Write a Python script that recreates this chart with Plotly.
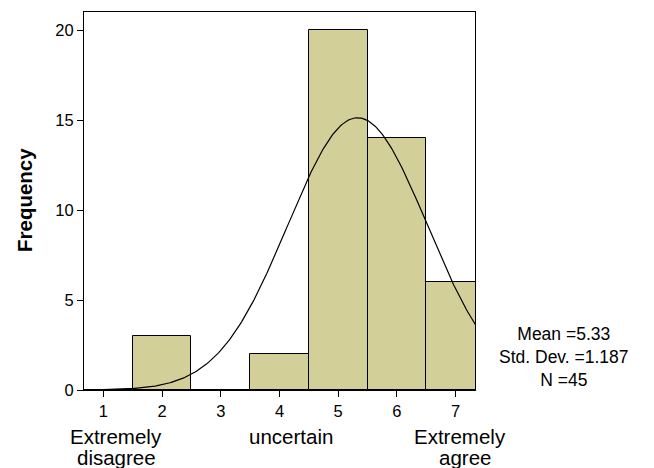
import numpy as np
import plotly.graph_objects as go

# Data
values = [1, 2, 3, 4, 5, 6, 7]
counts = [0, 3, 0, 2, 20, 14, 6]
y_ticks = [0, 5, 10, 15, 20]
category_labels = {1: ["Extremely", "disagree"], 4: ["uncertain"], 7: ["Extremely", "agree"]}
stat_mean = 5.33
stat_sd = 1.187
stat_n = 45

W, H = 654, 468
L, R, T, B = 84, 179, 12, 78
PW, PH = W - L - R, H - T - B

BAR_COLOR = "#D3CF99"
FONT = "Liberation Sans, Arial, sans-serif"

fig = go.Figure()
fig.add_trace(go.Bar(
    x=values, y=counts, width=1.0,
    marker=dict(color=BAR_COLOR, line=dict(color="black", width=1)),
    hoverinfo="skip",
))

# Fitted normal curve from the displayed statistics
xc = np.linspace(1.0, 7.4, 300)
yc = stat_n * 1.0 / (stat_sd * np.sqrt(2 * np.pi)) * np.exp(-0.5 * ((xc - stat_mean) / stat_sd) ** 2)
fig.add_trace(go.Scatter(x=xc, y=yc, mode="lines", line=dict(color="black", width=1.2),
                         hoverinfo="skip"))

x_range = [0.67, 7.33]
y_range = [0, 21.0]

def px_to_xpaper(px):
    return (px - L) / PW

def py_to_ypaper(py):
    return (H - B - py) / PH

annotations = []
cat_pos = {
    1: [(116, 436), (116, 457)],
    4: [(291, 436)],
    7: [(460, 436), (465, 457)],
}
for k, lines in category_labels.items():
    for (txt, (px, py)) in zip(lines, cat_pos[k]):
        annotations.append(dict(
            text=txt, x=px_to_xpaper(px), y=py_to_ypaper(py), xref="paper", yref="paper",
            xanchor="center", yanchor="middle", showarrow=False,
            font=dict(family=FONT, size=20.5, color="black")))

stats_text = "<br>".join([f"Mean ={stat_mean:.2f}", f"Std. Dev. ={stat_sd:.3f}", f"N ={stat_n}"])
annotations.append(dict(
    text=stats_text, x=px_to_xpaper(564), y=py_to_ypaper(357), xref="paper", yref="paper",
    xanchor="center", yanchor="middle", align="center", showarrow=False,
    font=dict(family=FONT, size=17.5, color="black")))

annotations.append(dict(
    text="<b>Frequency</b>", x=px_to_xpaper(24), y=py_to_ypaper(200), xref="paper", yref="paper",
    xanchor="center", yanchor="middle", showarrow=False, textangle=-90,
    font=dict(family=FONT, size=20.5, color="black")))

fig.update_layout(
    width=W, height=H,
    margin=dict(l=L, r=R, t=T, b=B),
    paper_bgcolor="white", plot_bgcolor="white",
    showlegend=False,
    bargap=0,
    annotations=annotations,
    font=dict(family=FONT, size=16, color="black"),
)
fig.update_xaxes(
    range=x_range, tickmode="array", tickvals=values, ticktext=[str(v) for v in values],
    ticks="outside", ticklen=6, tickcolor="black", tickwidth=1,
    showline=True, linecolor="black", linewidth=1, mirror=True,
    showgrid=False, zeroline=False, tickfont=dict(family=FONT, size=16.5, color="black"),
)
fig.update_yaxes(
    range=y_range, tickmode="array", tickvals=y_ticks, ticktext=[str(v) for v in y_ticks],
    ticks="outside", ticklen=6, tickcolor="black", tickwidth=1,
    showline=True, linecolor="black", linewidth=1, mirror=True,
    showgrid=False, zeroline=False, tickfont=dict(family=FONT, size=16.5, color="black"),
)

fig.write_html("out.html", config={"displayModeBar": False},
               post_script="document.body.style.margin='0';document.body.style.padding='0';")
